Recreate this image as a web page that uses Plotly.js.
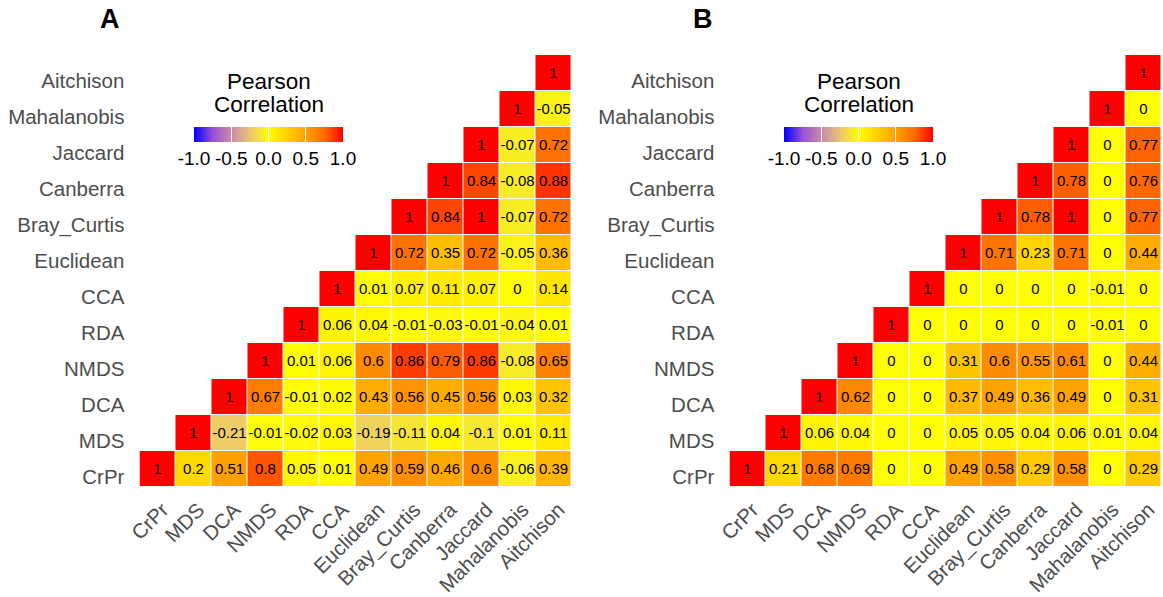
<!DOCTYPE html>
<html>
<head>
<meta charset="utf-8">
<script src="https://cdn.plot.ly/plotly-3.0.1.min.js"></script>
<style>
  html, body { margin: 0; padding: 0; background: #fff; }
  #chart { width: 1163px; height: 597px; }
</style>
</head>
<body>
<div id="chart"></div>
<script>
// Ordination / distance methods, bottom-to-top on y and left-to-right on x
const methods = ["CrPr", "MDS", "DCA", "NMDS", "RDA", "CCA", "Euclidean",
                 "Bray_Curtis", "Canberra", "Jaccard", "Mahalanobis", "Aitchison"];

// Panel A: upper-triangle correlations, one array per row (starting at the diagonal)
const corrA_CrPr        = [1, 0.2, 0.51, 0.8, 0.05, 0.01, 0.49, 0.59, 0.46, 0.6, -0.06, 0.39];
const corrA_MDS         = [1, -0.21, -0.01, -0.02, 0.03, -0.19, -0.11, 0.04, -0.1, 0.01, 0.11];
const corrA_DCA         = [1, 0.67, -0.01, 0.02, 0.43, 0.56, 0.45, 0.56, 0.03, 0.32];
const corrA_NMDS        = [1, 0.01, 0.06, 0.6, 0.86, 0.79, 0.86, -0.08, 0.65];
const corrA_RDA         = [1, 0.06, 0.04, -0.01, -0.03, -0.01, -0.04, 0.01];
const corrA_CCA         = [1, 0.01, 0.07, 0.11, 0.07, 0, 0.14];
const corrA_Euclidean   = [1, 0.72, 0.35, 0.72, -0.05, 0.36];
const corrA_BrayCurtis  = [1, 0.84, 1, -0.07, 0.72];
const corrA_Canberra    = [1, 0.84, -0.08, 0.88];
const corrA_Jaccard     = [1, -0.07, 0.72];
const corrA_Mahalanobis = [1, -0.05];
const corrA_Aitchison   = [1];

// Panel B
const corrB_CrPr        = [1, 0.21, 0.68, 0.69, 0, 0, 0.49, 0.58, 0.29, 0.58, 0, 0.29];
const corrB_MDS         = [1, 0.06, 0.04, 0, 0, 0.05, 0.05, 0.04, 0.06, 0.01, 0.04];
const corrB_DCA         = [1, 0.62, 0, 0, 0.37, 0.49, 0.36, 0.49, 0, 0.31];
const corrB_NMDS        = [1, 0, 0, 0.31, 0.6, 0.55, 0.61, 0, 0.44];
const corrB_RDA         = [1, 0, 0, 0, 0, 0, -0.01, 0];
const corrB_CCA         = [1, 0, 0, 0, 0, -0.01, 0];
const corrB_Euclidean   = [1, 0.71, 0.23, 0.71, 0, 0.44];
const corrB_BrayCurtis  = [1, 0.78, 1, 0, 0.77];
const corrB_Canberra    = [1, 0.78, 0, 0.76];
const corrB_Jaccard     = [1, 0, 0.77];
const corrB_Mahalanobis = [1, 0];
const corrB_Aitchison   = [1];

const colorbarTicks = [-1, -0.5, 0, 0.5, 1];
const colorbarLabels = ["-1.0", "-0.5", "0.0", "0.5", "1.0"];

const rowsA = [corrA_CrPr, corrA_MDS, corrA_DCA, corrA_NMDS, corrA_RDA, corrA_CCA,
               corrA_Euclidean, corrA_BrayCurtis, corrA_Canberra, corrA_Jaccard,
               corrA_Mahalanobis, corrA_Aitchison];
const rowsB = [corrB_CrPr, corrB_MDS, corrB_DCA, corrB_NMDS, corrB_RDA, corrB_CCA,
               corrB_Euclidean, corrB_BrayCurtis, corrB_Canberra, corrB_Jaccard,
               corrB_Mahalanobis, corrB_Aitchison];

// Pad each row on the left so that row i starts at column i
function toMatrix(rows) {
  const n = methods.length;
  return rows.map((r, i) => Array(n - r.length).fill(null).concat(r));
}
function toText(z) {
  return z.map(r => r.map(v => v === null ? "" : String(v)));
}

// blue -> yellow -> red, sampled along a Lab path
const scale = [
  [0.000, "#0000FF"], [0.125, "#9850D5"], [0.250, "#CA8AAA"], [0.375, "#EAC476"],
  [0.500, "#FFFF00"], [0.625, "#FFD100"], [0.750, "#FFA100"], [0.875, "#FF6C00"],
  [1.000, "#FF0000"]
];

const FONT = "Liberation Sans, Arial, sans-serif";
const W = 1163, H = 597;

function colorbar(cx) {
  return {
    orientation: "h", x: cx / W, xanchor: "center",
    y: 1 - 127.5 / H, yanchor: "top",
    len: 149, lenmode: "pixels", thickness: 15, thicknessmode: "pixels",
    outlinewidth: 0, xpad: 0, ypad: 0,
    ticks: "inside", ticklen: 15, tickwidth: 1, tickcolor: "#ffffff",
    tickvals: colorbarTicks, ticktext: colorbarLabels,
    tickfont: { family: FONT, size: 19, color: "#000" }
  };
}

function heat(rows, xa, ya, cx) {
  const z = toMatrix(rows);
  return {
    type: "heatmap", x: methods, y: methods, z: z,
    text: toText(z), texttemplate: "%{text}",
    textfont: { family: FONT, size: 15, color: "#000" },
    colorscale: scale, zmin: -1, zmax: 1,
    xgap: 1, ygap: 1, hoverongaps: false,
    xaxis: xa, yaxis: ya,
    colorbar: colorbar(cx)
  };
}

const yDom = [1 - 486.7 / H, 1 - 55 / H];
function xAxis(d0, d1) {
  return {
    domain: [d0 / W, d1 / W], type: "category", range: [-0.5, 11.5],
    showgrid: false, zeroline: false, showline: false,
    ticks: "outside", ticklen: 2, tickcolor: "rgba(0,0,0,0)",
    ticklabelshift: 5,
    tickangle: -45, tickfont: { family: FONT, size: 20.5, color: "#4D4D4D" },
    fixedrange: true
  };
}
function yAxis(anchor) {
  return {
    domain: yDom, anchor: anchor, type: "category", range: [-0.5, 11.5],
    showgrid: false, zeroline: false, showline: false,
    ticks: "outside", ticklen: 10, tickcolor: "rgba(0,0,0,0)",
    ticklabelshift: 8,
    tickfont: { family: FONT, size: 20.5, color: "#4D4D4D" },
    fixedrange: true
  };
}

function legendTitle(cx) {
  return [
    { text: "Pearson", x: cx / W, y: 1 - 82 / H },
    { text: "Correlation", x: cx / W, y: 1 - 105 / H }
  ].map(a => Object.assign(a, {
    xref: "paper", yref: "paper", xanchor: "center", yanchor: "middle",
    showarrow: false, font: { family: FONT, size: 22.5, color: "#000" }
  }));
}

const layout = {
  width: W, height: H,
  margin: { l: 0, r: 0, t: 0, b: 0 },
  paper_bgcolor: "#fff", plot_bgcolor: "#fff",
  font: { family: FONT },
  xaxis: xAxis(139.5, 571.7), yaxis: yAxis("x"),
  xaxis2: xAxis(729.5, 1161.7), yaxis2: yAxis("x2"),
  annotations: [
    { text: "<b>A</b>", x: 110 / W, y: 1 - 19 / H },
    { text: "<b>B</b>", x: 702.5 / W, y: 1 - 19 / H }
  ].map(a => Object.assign(a, {
    xref: "paper", yref: "paper", xanchor: "center", yanchor: "middle",
    showarrow: false, font: { family: FONT, size: 27, color: "#000" }
  })).concat(legendTitle(268.5), legendTitle(858.5))
};

Plotly.newPlot("chart", [heat(rowsA, "x", "y", 268.5), heat(rowsB, "x2", "y2", 858.5)],
               layout, { displayModeBar: false, staticPlot: true });
</script>
</body>
</html>
